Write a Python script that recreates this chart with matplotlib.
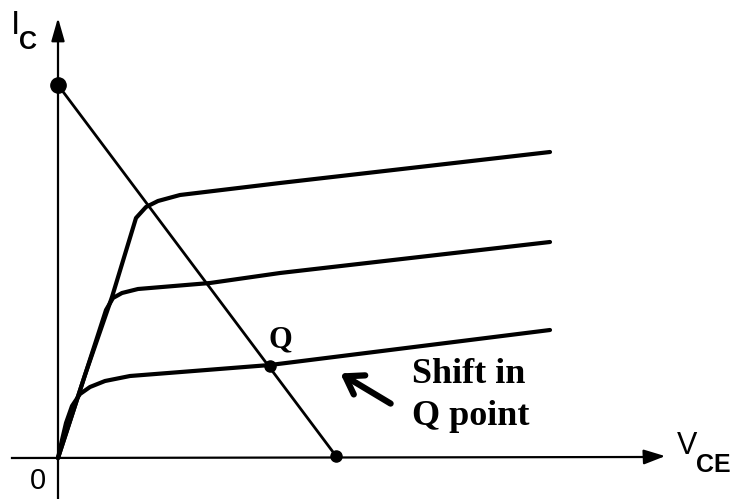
import matplotlib
matplotlib.use('Agg')
import matplotlib.pyplot as plt

# characteristic curves (x = V_CE, y = I_C, arbitrary units)
c1_x = [0, 27, 54, 78, 88, 100, 122, 222, 492]
c1_y = [0, 83, 161, 240, 251, 257, 263, 275, 306]

c2_x = [0, 27, 48, 55, 64, 80, 152, 222, 492]
c2_y = [0, 83, 148, 160, 165, 169, 175, 185, 216]

c3_x = [0, 4, 8, 14, 22, 32, 47, 72, 212, 492]
c3_y = [0, 18, 35, 52, 64, 71, 77, 82, 93, 128]

# load line end points and Q point
load_x = [0, 278]
load_y = [373, 2]
q_x, q_y = 212, 92

fig = plt.figure(figsize=(7.33, 4.99), dpi=100)
ax = fig.add_axes([0, 0, 1, 1])
ax.set_xlim(-58, 675)
ax.set_ylim(-41, 458)
ax.axis('off')

# axes with arrows
ax.plot([0, 0], [-41, 420], color='k', lw=1.6)
ax.annotate('', xy=(0, 443), xytext=(0, 415),
            arrowprops=dict(arrowstyle='-|>,head_length=1.4,head_width=0.4', color='k', lw=1.6))
ax.plot([-46, 590], [0, 1], color='k', lw=1.6)
ax.annotate('', xy=(610, 2), xytext=(585, 1),
            arrowprops=dict(arrowstyle='-|>,head_length=1.3,head_width=0.45', color='k', lw=1.6))

# curves
for xs, ys in [(c1_x, c1_y), (c2_x, c2_y), (c3_x, c3_y)]:
    ax.plot(xs, ys, color='k', lw=3, solid_capstyle='round', solid_joinstyle='round')

# load line
ax.plot(load_x, load_y, color='k', lw=2)
ax.plot(load_x[0], load_y[0], 'ko', ms=11)
ax.plot(load_x[1], load_y[1], 'ko', ms=8)
ax.plot(q_x, q_y, 'ko', ms=8)

# labels
sans = ['Liberation Sans Narrow', 'Liberation Sans']
ax.text(-43, 433, 'I', fontsize=24, family=sans, ha='center', va='center')
ax.text(-30, 416, 'C', fontsize=18, family=sans, weight='bold', ha='center', va='center')
ax.text(-20, -23, '0', fontsize=21, family=sans, ha='center', va='center')
ax.text(629, 12, 'V', fontsize=22, family=sans, ha='center', va='center')
ax.text(655, -7, 'CE', fontsize=18, family=sans, weight='bold', ha='center', va='center')

serif = 'Liberation Serif'
ax.text(222, 111, 'Q', fontsize=22, family=serif, weight='bold', ha='center', va='baseline')
ax.text(354, 75, 'Shift in', fontsize=26, family=serif, weight='bold', ha='left', va='baseline')
ax.text(354, 33, 'Q point', fontsize=26, family=serif, weight='bold', ha='left', va='baseline')

ax.annotate('', xy=(280, 86), xytext=(335, 53),
            arrowprops=dict(arrowstyle='->,head_length=1.2,head_width=0.8', color='k', lw=4.5))

fig.savefig('out.png', dpi=100)
